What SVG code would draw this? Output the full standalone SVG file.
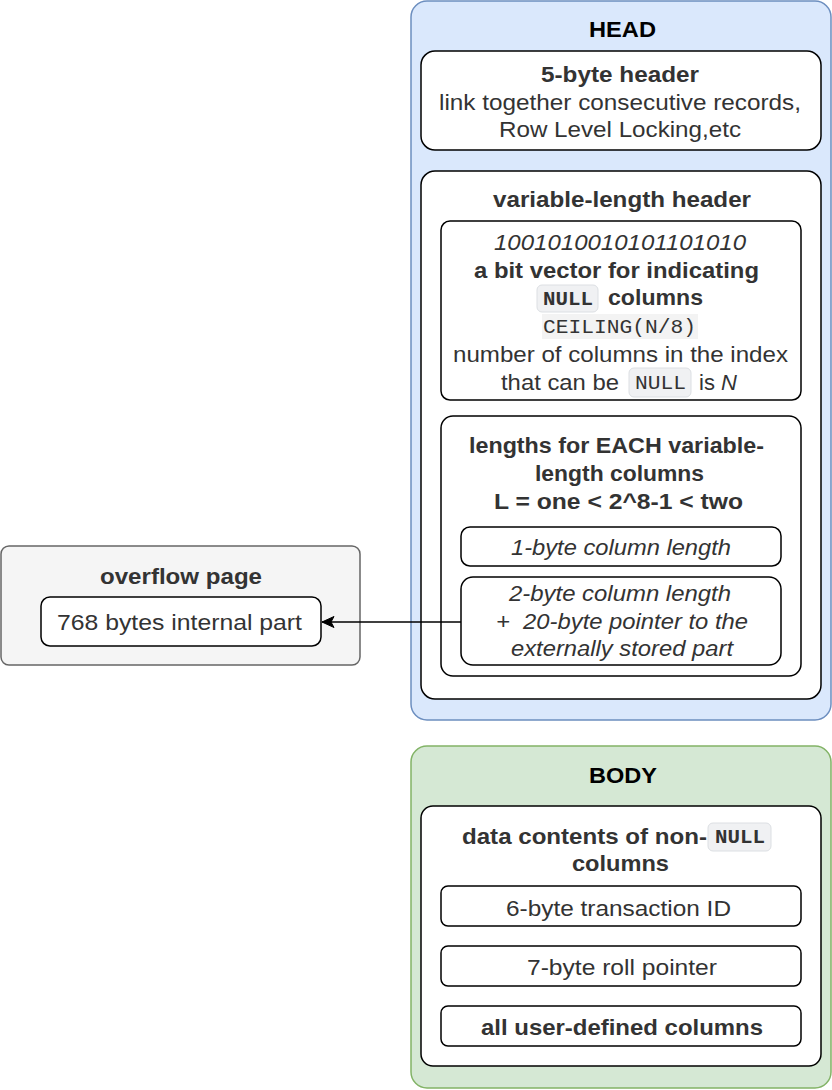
<svg xmlns="http://www.w3.org/2000/svg" width="832" height="1090" viewBox="0 0 832 1090">
<defs>
<style>
text{font-family:"Liberation Sans",Arial,sans-serif;font-size:22px;fill:#333333;text-anchor:start}
.b{font-weight:bold}
.i{font-style:italic}
.t{font-weight:bold;fill:#000000}
.m{font-family:"Liberation Mono","Courier New",monospace;font-size:20px}
.box{fill:#ffffff;stroke:#000000;stroke-width:1.5}
.code{fill:#f0f1f3;stroke:#dcdfe3;stroke-width:1}
.codeflat{fill:#f3f3f3;stroke:none}
.edge{fill:none;stroke:#000000;stroke-width:1.5}
</style>
<marker id="arr" markerWidth="14" markerHeight="12" refX="13" refY="6" orient="auto" markerUnits="userSpaceOnUse">
<path d="M13,6 L1,0.5 L4,6 L1,11.5 Z" fill="#000000" stroke="#000000" stroke-width="1"/>
</marker>
</defs>

<g id="head">
<rect x="411" y="1" width="420" height="719" rx="16" fill="#dae8fc" stroke="#6c8ebf" stroke-width="1.5"/>
<text x="589" y="37" class="t" textLength="67" lengthAdjust="spacingAndGlyphs">HEAD</text>
</g>

<g id="five-byte-header">
<rect class="box" x="421" y="51" width="400" height="99" rx="14"/>
<text x="541" y="82" class="b" textLength="158" lengthAdjust="spacingAndGlyphs">5-byte header</text>
<text x="439" y="110" textLength="362" lengthAdjust="spacingAndGlyphs">link together consecutive records,</text>
<text x="499" y="137" textLength="242" lengthAdjust="spacingAndGlyphs">Row Level Locking,etc</text>
</g>

<g id="variable-length-header">
<rect class="box" x="421" y="171" width="400" height="528" rx="14"/>
<text x="493" y="207" class="b" textLength="258" lengthAdjust="spacingAndGlyphs">variable-length header</text>
</g>

<g id="null-bit-vector">
<rect class="box" x="441" y="221" width="360" height="179" rx="9"/>
<text x="494" y="250" class="i" textLength="252" lengthAdjust="spacingAndGlyphs">1001010010101101010</text>
<text x="474" y="278" class="b" textLength="285" lengthAdjust="spacingAndGlyphs">a bit vector for indicating</text>
<rect class="code" x="537" y="285" width="61" height="27" rx="5"/>
<text x="543" y="305" class="m b" textLength="50" lengthAdjust="spacingAndGlyphs">NULL</text>
<text x="608" y="305" class="b" textLength="95" lengthAdjust="spacingAndGlyphs">columns</text>
<rect class="codeflat" x="542" y="314" width="156" height="25"/>
<text x="543" y="333" class="m" textLength="153" lengthAdjust="spacingAndGlyphs">CEILING(N/8)</text>
<text x="453" y="362" textLength="335" lengthAdjust="spacingAndGlyphs">number of columns in the index</text>
<text x="501" y="390" textLength="118" lengthAdjust="spacingAndGlyphs">that can be</text>
<rect class="code" x="629" y="368" width="62" height="29" rx="5"/>
<text x="635" y="389" class="m" textLength="51" lengthAdjust="spacingAndGlyphs">NULL</text>
<text x="699" y="390">is <tspan class="i">N</tspan></text>
</g>

<g id="column-lengths">
<rect class="box" x="441" y="416" width="360" height="260" rx="12"/>
<text x="469" y="453" class="b" textLength="295" lengthAdjust="spacingAndGlyphs">lengths for EACH variable-</text>
<text x="535" y="481" class="b" textLength="169" lengthAdjust="spacingAndGlyphs">length columns</text>
<text x="494" y="509" class="b" textLength="249" lengthAdjust="spacingAndGlyphs">L = one &lt; 2^8-1 &lt; two</text>
</g>

<g id="one-byte-length">
<rect class="box" x="461" y="527" width="320" height="39" rx="9"/>
<text x="511" y="555" class="i" textLength="220" lengthAdjust="spacingAndGlyphs">1-byte column length</text>
</g>

<g id="two-byte-length">
<rect class="box" x="461" y="577" width="320" height="88" rx="12"/>
<text x="509" y="601" class="i" textLength="222" lengthAdjust="spacingAndGlyphs">2-byte column length</text>
<text x="496" y="629" class="i" textLength="252" lengthAdjust="spacingAndGlyphs" xml:space="preserve">+  20-byte pointer to the</text>
<text x="511" y="656" class="i" textLength="222" lengthAdjust="spacingAndGlyphs">externally stored part</text>
</g>

<g id="overflow-page">
<rect x="1" y="546" width="359" height="119" rx="8" fill="#f5f5f5" stroke="#666666" stroke-width="1.5"/>
<text x="100" y="584" class="b" textLength="162" lengthAdjust="spacingAndGlyphs">overflow page</text>
</g>

<g id="internal-part">
<rect class="box" x="41" y="597" width="280" height="49" rx="9"/>
<text x="57" y="630" textLength="245" lengthAdjust="spacingAndGlyphs">768 bytes internal part</text>
</g>

<g id="body">
<rect x="411" y="746" width="420" height="342" rx="16" fill="#d5e8d4" stroke="#82b366" stroke-width="1.5"/>
<text x="589" y="783" class="t" textLength="68" lengthAdjust="spacingAndGlyphs">BODY</text>
</g>

<g id="data-contents">
<rect class="box" x="421" y="806" width="400" height="260" rx="12"/>
<text x="462" y="844" class="b" textLength="245" lengthAdjust="spacingAndGlyphs">data contents of non-</text>
<rect class="code" x="708" y="823" width="63" height="28" rx="5"/>
<text x="715" y="843" class="m b" textLength="50" lengthAdjust="spacingAndGlyphs">NULL</text>
<text x="572" y="871" class="b" textLength="97" lengthAdjust="spacingAndGlyphs">columns</text>
</g>

<g id="transaction-id">
<rect class="box" x="441" y="886" width="360" height="40" rx="7"/>
<text x="506" y="916" textLength="225" lengthAdjust="spacingAndGlyphs">6-byte transaction ID</text>
</g>

<g id="roll-pointer">
<rect class="box" x="441" y="946" width="360" height="40" rx="7"/>
<text x="527" y="975" textLength="190" lengthAdjust="spacingAndGlyphs">7-byte roll pointer</text>
</g>

<g id="user-columns">
<rect class="box" x="441" y="1006" width="360" height="40" rx="7"/>
<text x="481" y="1035" class="b" textLength="282" lengthAdjust="spacingAndGlyphs">all user-defined columns</text>
</g>

<g id="connectors">
<path class="edge" d="M461,622 L322,622" marker-end="url(#arr)"/>
</g>
</svg>
